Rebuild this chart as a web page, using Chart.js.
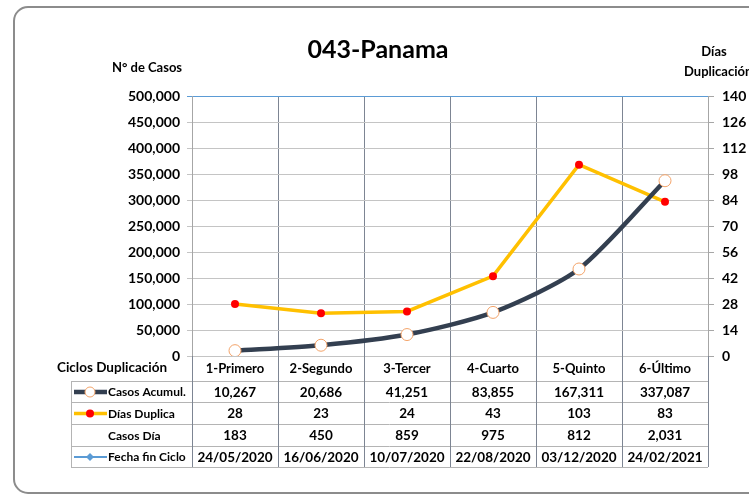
<!DOCTYPE html>
<html>
<head>
<meta charset="utf-8">
<script src="https://cdn.jsdelivr.net/npm/chart.js@4.4.0/dist/chart.umd.min.js"></script>
<style>
  html, body { margin: 0; padding: 0; background: #fff; }
  #wrap { width: 749px; height: 495px; }
</style>
</head>
<body>
<div id="wrap"><canvas id="chart" width="749" height="495"></canvas></div>
<script>
// data
const ciclos = ['1-Primero', '2-Segundo', '3-Tercer', '4-Cuarto', '5-Quinto', '6-Último'];
const casosAcumul = [10267, 20686, 41251, 83855, 167311, 337087];
const diasDuplica = [28, 23, 24, 43, 103, 83];
const casosDia = [183, 450, 859, 975, 812, 2031];
const fechaFin = ['24/05/2020', '16/06/2020', '10/07/2020', '22/08/2020', '03/12/2020', '24/02/2021'];

const FONT = 'Lato, "Open Sans", sans-serif';
const fmt = v => v.toLocaleString('en-US');

// frame, titles and data table under the plot
const decorations = {
    id: 'decorations',
    beforeDraw(chart) {
        const c = chart.ctx;
        c.save();
        c.fillStyle = '#fff';
        c.fillRect(0, 0, chart.width, chart.height);
        c.strokeStyle = '#8c8c8c';
        c.lineWidth = 2;
        c.beginPath();
        c.roundRect(14, 7, 760, 486, 14);
        c.stroke();
        c.restore();
    },
    afterDraw(chart) {
        const c = chart.ctx;
        const area = chart.chartArea;
        const x = chart.scales.x;
        const colW = (area.right - area.left) / ciclos.length;
        const rows = [381, 402, 424, 446, 467];
        const tableLeft = 71;
        c.save();

        // titles
        c.fillStyle = '#000';
        c.textAlign = 'center';
        c.textBaseline = 'middle';
        c.font = 'bold 25px ' + FONT;
        c.fillText('043-Panama', 378, 50);
        c.font = 'bold 13px ' + FONT;
        c.fillText('N° de Casos', 147, 68);
        c.fillText('Días', 714, 52);
        c.textAlign = 'left';
        c.fillText('Duplicación', 684, 72);

        // table grid
        c.lineWidth = 1;
        c.strokeStyle = '#b4b4b4';
        rows.forEach(y => {
            c.beginPath();
            c.moveTo(tableLeft, y + 0.5);
            c.lineTo(area.right, y + 0.5);
            c.stroke();
        });
        c.beginPath();
        c.moveTo(tableLeft + 0.5, rows[0]);
        c.lineTo(tableLeft + 0.5, rows[4]);
        c.stroke();
        c.strokeStyle = '#7d8593';
        for (let i = 0; i <= ciclos.length; i++) {
            const gx = Math.round(area.left + i * colW) + 0.5;
            c.beginPath();
            c.moveTo(gx, area.bottom);
            c.lineTo(gx, rows[4]);
            c.stroke();
        }

        // header row
        c.fillStyle = '#000';
        c.font = 'bold 13.5px ' + FONT;
        c.textAlign = 'left';
        c.fillText('Ciclos Duplicación', 57, 368);
        c.font = 'bold 13px ' + FONT;
        c.textAlign = 'center';
        ciclos.forEach((lab, i) => c.fillText(lab, x.getPixelForValue(i), 369));

        // row values
        c.font = 'bold 13.5px ' + FONT;
        const rowVals = [casosAcumul.map(fmt), diasDuplica.map(String), casosDia.map(fmt), fechaFin];
        const rowNames = ['Casos Acumul.', 'Días Duplica', 'Casos Día', 'Fecha fin Ciclo'];
        rowVals.forEach((vals, r) => {
            const cy = (rows[r] + rows[r + 1]) / 2 + 1;
            vals.forEach((v, i) => c.fillText(v, x.getPixelForValue(i), cy));
        });
        c.font = 'bold 12px ' + FONT;
        c.textAlign = 'left';
        rowNames.forEach((n, r) => {
            const cy = (rows[r] + rows[r + 1]) / 2 + 1;
            c.fillText(n, 108, cy);
        });

        // legend keys
        const ky = r => (rows[r] + rows[r + 1]) / 2 + 0.5;
        c.lineCap = 'butt';
        c.strokeStyle = '#333f50';
        c.lineWidth = 4.5;
        c.beginPath(); c.moveTo(74, ky(0)); c.lineTo(107, ky(0)); c.stroke();
        c.fillStyle = '#fff';
        c.strokeStyle = '#f4a46a';
        c.lineWidth = 1;
        c.beginPath(); c.arc(90, ky(0), 5, 0, Math.PI * 2); c.fill(); c.stroke();

        c.strokeStyle = '#ffc000';
        c.lineWidth = 3.5;
        c.beginPath(); c.moveTo(74, ky(1)); c.lineTo(107, ky(1)); c.stroke();
        c.fillStyle = '#ff0000';
        c.beginPath(); c.arc(90, ky(1), 4, 0, Math.PI * 2); c.fill();

        c.strokeStyle = '#5b9bd5';
        c.lineWidth = 2;
        c.beginPath(); c.moveTo(74, ky(3)); c.lineTo(107, ky(3)); c.stroke();
        c.fillStyle = '#5b9bd5';
        c.beginPath();
        c.moveTo(90, ky(3) - 4); c.lineTo(94, ky(3)); c.lineTo(90, ky(3) + 4); c.lineTo(86, ky(3));
        c.closePath(); c.fill();

        c.restore();
    }
};

new Chart(document.getElementById('chart'), {
    type: 'line',
    data: {
        labels: ciclos,
        datasets: [
            {
                label: 'Casos Acumul.',
                data: casosAcumul,
                yAxisID: 'y',
                borderColor: '#333f50',
                borderWidth: 4.5,
                pointRadius: 6,
                pointBackgroundColor: '#ffffff',
                pointBorderColor: '#f4a46a',
                pointBorderWidth: 1,
                tension: 0.25,
                order: 1
            },
            {
                label: 'Días Duplica',
                data: diasDuplica,
                yAxisID: 'y1',
                borderColor: '#ffc000',
                borderWidth: 3.5,
                pointRadius: 4,
                pointBackgroundColor: '#ff0000',
                pointBorderColor: '#ff0000',
                pointBorderWidth: 0,
                tension: 0,
                order: 2
            }
        ]
    },
    options: {
        responsive: false,
        animation: false,
        layout: { padding: { left: 0, right: 0, top: 96, bottom: 139 } },
        plugins: { legend: { display: false }, tooltip: { enabled: false } },
        scales: {
            x: {
                offset: true,
                ticks: { display: false },
                grid: { offset: true, color: '#7d8593', drawTicks: false },
                border: { display: false },
                afterFit: s => { s.height = 0; }
            },
            y: {
                position: 'left',
                min: 0,
                max: 500000,
                ticks: {
                    stepSize: 50000,
                    padding: 7,
                    color: '#000',
                    font: { family: FONT, size: 14, weight: 'bold' },
                    callback: v => fmt(v)
                },
                grid: {
                    tickLength: 5,
                    color: ctx => ctx.tick && ctx.tick.value === 500000 ? '#5b9bd5' : '#c4c4c4'
                },
                border: { color: '#a6a6a6' },
                afterFit: s => { s.width = 192; }
            },
            y1: {
                position: 'right',
                min: 0,
                max: 140,
                ticks: {
                    stepSize: 14,
                    padding: 8,
                    color: '#000',
                    font: { family: FONT, size: 14, weight: 'bold' }
                },
                grid: { drawOnChartArea: false, tickLength: 6, color: '#a6a6a6' },
                border: { color: '#a6a6a6' },
                afterFit: s => { s.width = 41; }
            }
        }
    },
    plugins: [decorations]
});
</script>
</body>
</html>
